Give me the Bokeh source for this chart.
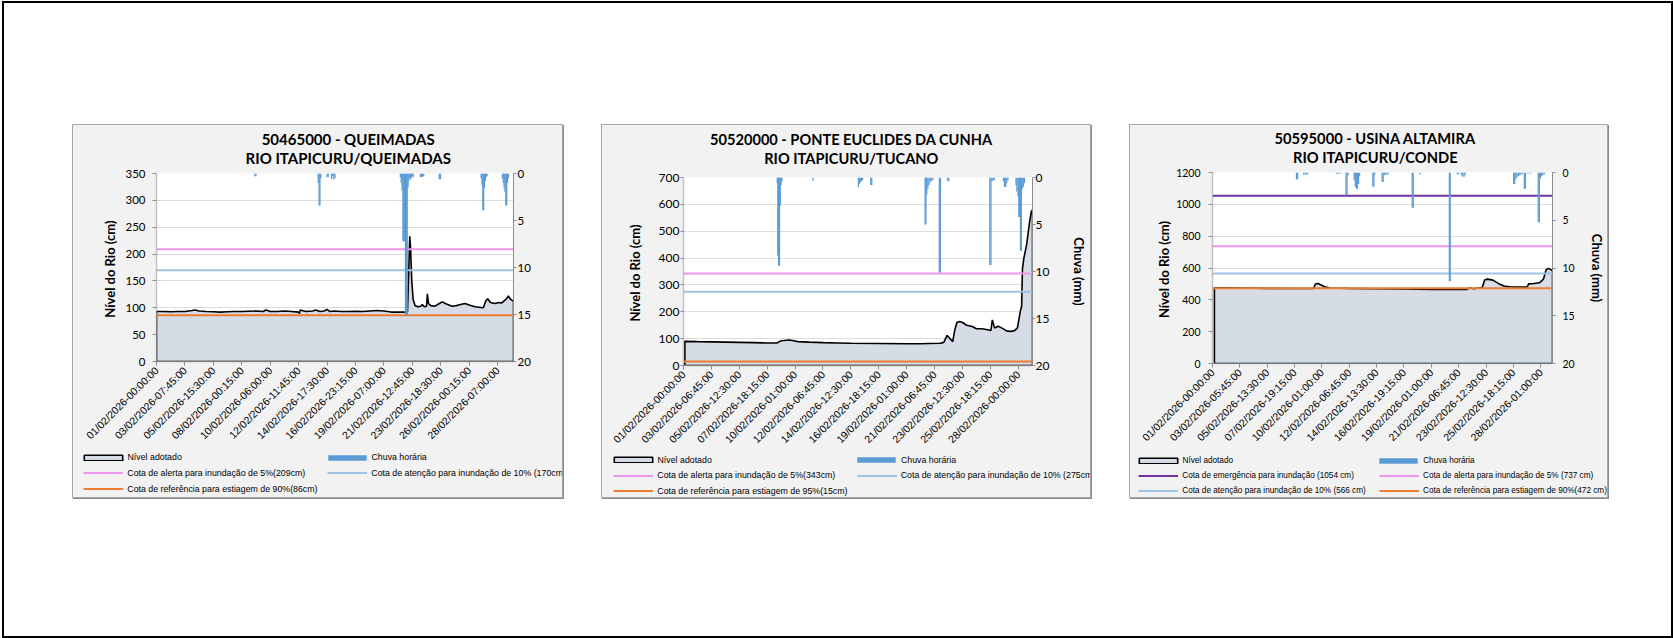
import math
from bokeh.plotting import figure
from bokeh.models import Range1d, LinearAxis, Legend, LegendItem, Spacer, FixedTicker
from bokeh.layouts import row, column
from bokeh.core.properties import value
from bokeh.embed import file_html
from bokeh.resources import INLINE

# ======================= DATA =======================
# time axis is expressed in "label intervals" (tick i = i-th label)
# ---------- Panel 1 : Queimadas ----------
p1_title = ["50465000 - QUEIMADAS", "RIO ITAPICURU/QUEIMADAS"]
p1_ticklabels = ["01/02/2026-00:00:00", "03/02/2026-07:45:00", "05/02/2026-15:30:00",
                 "08/02/2026-00:15:00", "10/02/2026-06:00:00", "12/02/2026-11:45:00",
                 "14/02/2026-17:30:00", "16/02/2026-23:15:00", "19/02/2026-07:00:00",
                 "21/02/2026-12:45:00", "23/02/2026-18:30:00", "26/02/2026-00:15:00",
                 "28/02/2026-07:00:00"]
p1_span = 12.56
p1_ymax, p1_ystep = 350, 50
p1_level = [(0.0, 93), (0.25, 93), (0.5, 92.5), (0.75, 93), (1.0, 93), (1.25, 95), (1.35, 96),
            (1.5, 94), (1.75, 93), (2.0, 92.5), (2.25, 92), (2.5, 92.5), (2.75, 93), (3.0, 93),
            (3.25, 93.5), (3.5, 94), (3.75, 93), (3.85, 96), (4.0, 93), (4.25, 93), (4.5, 94),
            (4.75, 93), (5.0, 92), (5.03, 89), (5.06, 96), (5.25, 93), (5.5, 94), (5.6, 96),
            (5.75, 93), (5.9, 94), (6.0, 97), (6.1, 93), (6.25, 94), (6.5, 93), (6.75, 93),
            (7.0, 93.5), (7.25, 93), (7.5, 94), (7.75, 95), (8.0, 94), (8.25, 92), (8.5, 92),
            (8.83, 92), (8.87, 160), (8.91, 233), (8.94, 210), (8.98, 150), (9.03, 115),
            (9.1, 104), (9.2, 102), (9.3, 103), (9.35, 106), (9.42, 102), (9.5, 103), (9.53, 126),
            (9.57, 108), (9.65, 104), (9.8, 103), (9.95, 108), (10.05, 111), (10.2, 107),
            (10.4, 103), (10.55, 104), (10.7, 106), (10.85, 108), (11.0, 105), (11.2, 102),
            (11.35, 101), (11.5, 100), (11.58, 112), (11.65, 117), (11.75, 110), (11.9, 108),
            (12.05, 110), (12.15, 109), (12.3, 116), (12.38, 122), (12.45, 116), (12.56, 112)]
p1_rain = [(3.46, 0.3), (3.50, 0.3), (5.69, 1.0), (5.72, 3.4), (5.75, 3.4), (5.78, 0.5),
           (6.00, 0.4), (6.04, 0.4), (6.16, 0.6), (6.20, 0.3), (6.24, 0.6), (6.28, 0.5),
           (8.58, 0.4), (8.61, 1.0), (8.64, 1.8), (8.67, 7.2), (8.70, 7.2), (8.73, 7.2),
           (8.76, 15.1), (8.79, 15.1), (8.82, 15.1), (8.85, 1.5), (8.88, 0.8), (8.91, 0.5),
           (8.94, 0.6), (8.97, 0.4), (9.00, 0.3), (9.03, 0.4), (9.28, 0.35), (9.32, 0.4),
           (9.36, 0.35), (9.40, 0.3), (9.95, 0.6), (9.99, 0.6), (11.42, 0.5), (11.45, 1.2),
           (11.48, 3.9), (11.51, 3.9), (11.54, 1.5), (11.57, 0.8), (11.60, 0.4), (11.63, 0.3),
           (12.17, 0.5), (12.20, 1.0), (12.23, 1.5), (12.26, 2.0), (12.29, 3.4), (12.32, 3.4),
           (12.35, 1.0), (12.38, 0.5)]
p1_ref_names = ["Cota de alerta para inundação de 5%(209cm)",
                "Cota de atenção para inundação de 10% (170cm)",
                "Cota de referência para estiagem de 90%(86cm)"]
p1_ref_values = [209, 170, 86]
p1_ref_kinds = ["alerta", "atencao", "referencia"]

# ---------- Panel 2 : Ponte Euclides da Cunha ----------
p2_title = ["50520000 - PONTE EUCLIDES DA CUNHA", "RIO ITAPICURU/TUCANO"]
p2_ticklabels = ["01/02/2026-00:00:00", "03/02/2026-06:45:00", "05/02/2026-12:30:00",
                 "07/02/2026-18:15:00", "10/02/2026-01:00:00", "12/02/2026-06:45:00",
                 "14/02/2026-12:30:00", "16/02/2026-18:15:00", "19/02/2026-01:00:00",
                 "21/02/2026-06:45:00", "23/02/2026-12:30:00", "25/02/2026-18:15:00",
                 "28/02/2026-00:00:00"]
p2_span = 12.51
p2_ymax, p2_ystep = 700, 100
p2_level = [(0.05, 90), (0.5, 89), (1.0, 88), (1.5, 87), (2.0, 86), (2.5, 85), (3.0, 84),
            (3.35, 84), (3.42, 88), (3.5, 92), (3.7, 94), (3.8, 95), (3.95, 92), (4.1, 89),
            (4.5, 87), (5.0, 85), (5.5, 84), (6.0, 83), (7.0, 82), (8.0, 81), (8.5, 81),
            (8.8, 82), (9.2, 83), (9.33, 86), (9.45, 112), (9.55, 100), (9.65, 89), (9.72, 130),
            (9.8, 160), (9.9, 164), (10.0, 160), (10.15, 150), (10.35, 145), (10.5, 137),
            (10.7, 137), (10.9, 133), (11.02, 130), (11.07, 170), (11.15, 140), (11.28, 146),
            (11.4, 140), (11.6, 128), (11.75, 127), (11.87, 130), (11.97, 140), (12.07, 200),
            (12.12, 220), (12.15, 360), (12.2, 400), (12.3, 450), (12.4, 530), (12.46, 570),
            (12.51, 580)]
p2_rain = [(3.36, 0.6), (3.38, 8.3), (3.41, 9.4), (3.44, 9.4), (3.47, 3.0), (3.50, 0.8),
           (3.53, 0.4), (4.64, 0.35), (6.27, 1.0), (6.30, 0.7), (6.34, 0.5), (6.38, 0.4),
           (6.42, 0.3), (6.71, 0.8), (6.75, 0.8), (8.66, 5.0), (8.69, 5.0), (8.72, 1.8),
           (8.76, 1.2), (8.80, 0.8), (8.84, 0.5), (8.88, 0.4), (8.94, 0.3), (9.17, 10.1),
           (9.21, 10.1), (9.47, 0.4), (9.51, 0.4), (10.98, 9.3), (11.02, 9.3), (11.06, 0.4),
           (11.10, 0.3), (11.14, 0.3), (11.47, 0.4), (11.51, 1.0), (11.55, 1.0), (11.59, 0.6),
           (11.63, 0.3), (11.92, 0.8), (11.95, 1.5), (11.99, 2.0), (12.02, 4.2), (12.05, 4.2),
           (12.08, 7.8), (12.11, 7.8), (12.14, 1.2), (12.18, 1.0), (12.22, 0.6)]
p2_ref_names = ["Cota de alerta para inundação de 5%(343cm)",
                "Cota de atenção para inundação de 10% (275cm)",
                "Cota de referência para estiagem de 95%(15cm)"]
p2_ref_values = [343, 275, 15]
p2_ref_kinds = ["alerta", "atencao", "referencia"]

# ---------- Panel 3 : Usina Altamira ----------
p3_title = ["50595000 - USINA ALTAMIRA", "RIO ITAPICURU/CONDE"]
p3_ticklabels = ["01/02/2026-00:00:00", "03/02/2026-05:45:00", "05/02/2026-13:30:00",
                 "07/02/2026-19:15:00", "10/02/2026-01:00:00", "12/02/2026-06:45:00",
                 "14/02/2026-13:30:00", "16/02/2026-19:15:00", "19/02/2026-01:00:00",
                 "21/02/2026-06:45:00", "23/02/2026-12:30:00", "25/02/2026-18:15:00",
                 "28/02/2026-01:00:00"]
p3_span = 12.43
p3_ymax, p3_ystep = 1200, 200
p3_level = [(0.07, 475), (0.5, 475), (1.0, 474), (2.0, 472), (3.0, 471), (3.7, 471),
            (3.76, 500), (3.85, 503), (3.95, 495), (4.1, 482), (4.3, 474), (5.0, 472),
            (6.0, 470), (7.0, 468), (8.0, 465), (9.0, 465), (9.3, 466), (9.4, 475), (9.55, 470),
            (9.7, 474), (9.86, 478), (9.95, 525), (10.05, 530), (10.25, 524), (10.45, 503),
            (10.65, 487), (10.9, 481), (11.2, 480), (11.5, 480), (11.56, 500), (11.75, 503),
            (11.95, 507), (12.1, 530), (12.2, 590), (12.28, 598), (12.36, 590), (12.43, 585)]
p3_rain = [(3.07, 0.7), (3.11, 0.7), (3.33, 0.2), (3.38, 0.2), (3.43, 0.2), (3.48, 0.2),
           (4.53, 0.1), (4.58, 0.15), (4.63, 0.1), (4.68, 0.1), (4.88, 2.4), (4.92, 2.4),
           (4.96, 0.3), (5.18, 0.8), (5.22, 1.5), (5.26, 1.7), (5.30, 1.7), (5.34, 1.2),
           (5.38, 0.4), (5.86, 1.5), (5.90, 1.5), (5.94, 0.2), (6.20, 1.0), (6.24, 1.0),
           (6.28, 0.3), (6.32, 0.2), (6.37, 0.2), (6.42, 0.2), (7.30, 3.7), (7.34, 3.7),
           (7.58, 0.2), (8.66, 11.4), (8.69, 11.4), (8.95, 0.2), (9.00, 0.15), (9.10, 0.3),
           (9.15, 0.45), (9.20, 0.45), (9.25, 0.2), (11.01, 1.2), (11.05, 1.2), (11.09, 0.7),
           (11.13, 0.5), (11.18, 0.4), (11.23, 0.3), (11.28, 0.2), (11.32, 0.2), (11.40, 1.7),
           (11.44, 1.7), (11.52, 0.1), (11.58, 0.1), (11.64, 0.1), (11.91, 5.2), (11.95, 5.2),
           (11.99, 0.6), (12.03, 0.4), (12.08, 0.3), (12.13, 0.2)]
p3_ref_names = ["Cota de emergência para inundação (1054 cm)",
                "Cota de alerta para inundação de 5% (737 cm)",
                "Cota de atenção para inundação de 10% (566 cm)",
                "Cota de referência para estiagem de 90%(472 cm)"]
p3_ref_values = [1054, 737, 566, 472]
p3_ref_kinds = ["emergencia", "alerta", "atencao", "referencia"]

rain_max = 20
rain_ticks = [0, 5, 10, 15, 20]

# ======================= STYLE / LAYOUT =======================
REF_COLORS = {"emergencia": "#7030A0", "alerta": "#EE96EE",
              "atencao": "#9DC3E6", "referencia": "#ED7D31"}
REF_WIDTHS = {"emergencia": 1.8, "alerta": 2, "atencao": 2, "referencia": 2}
AREA_FILL = "#D6DCE5"
RAIN_COLOR = "#5B9BD5"
CHART_BG = "#F2F2F2"
NAN = float("nan")

PANEL_H = 372          # inner canvas height of each chart box
CANVAS_TOP = 125       # absolute page y of the chart boxes' inner top
TOP_PAD = 6            # space kept above the plot frame inside the main figure
BOTTOM_PAD = 88        # space below the frame for the rotated labels

layouts = [
    dict(left=73, w=489, frame_left=156, frame_top=173, fw=357, fh=188,
         title=(347.7, 138.0, 157.0), title_size="15px",
         ytick_out=4, ytick_standoff=7, ylab_standoff=4,
         rtick_standoff=1, rlab="", rlab_standoff=10, tick_font="11.5px",
         cols=(83.3, 327.3), rows=(456.7, 472.7, 488.7), leg_font="8.8px"),
    dict(left=602, w=488, frame_left=683, frame_top=177, fw=357, fh=188,
         title=(850.8, 139.3, 158.3), title_size="14.6px",
         ytick_out=3, ytick_standoff=1, ylab_standoff=13,
         rtick_standoff=0, rlab="Chuva (mm)", rlab_standoff=19, tick_font="12px",
         cols=(613.3, 856.7), rows=(459.3, 475.0, 490.7), leg_font="8.8px"),
    dict(left=1130, w=477, frame_left=1212, frame_top=172, fw=347, fh=191,
         title=(1374.8, 137.3, 156.7), title_size="14.7px",
         ytick_out=4, ytick_standoff=8, ylab_standoff=1,
         rtick_standoff=7, rlab="Chuva (mm)", rlab_standoff=11, tick_font="10.5px",
         cols=(1138.3, 1379.0), rows=(459.3, 475.0, 490.7), leg_font="8.2px"),
]
datasets = [
    dict(title=p1_title, ticks=p1_ticklabels, span=p1_span, ymax=p1_ymax, ystep=p1_ystep,
         level=p1_level, rain=p1_rain, ref_names=p1_ref_names, ref_values=p1_ref_values,
         ref_kinds=p1_ref_kinds),
    dict(title=p2_title, ticks=p2_ticklabels, span=p2_span, ymax=p2_ymax, ystep=p2_ystep,
         level=p2_level, rain=p2_rain, ref_names=p2_ref_names, ref_values=p2_ref_values,
         ref_kinds=p2_ref_kinds),
    dict(title=p3_title, ticks=p3_ticklabels, span=p3_span, ymax=p3_ymax, ystep=p3_ystep,
         level=p3_level, rain=p3_rain, ref_names=p3_ref_names, ref_values=p3_ref_values,
         ref_kinds=p3_ref_kinds),
]


def blank_fig(w, h):
    f = figure(width=w, height=h, x_range=Range1d(0, w), y_range=Range1d(h, 0),
               output_backend="svg", toolbar_location=None, min_border=0,
               x_axis_location=None, y_axis_location=None, frame_align=False,
               background_fill_color=CHART_BG, border_fill_color=CHART_BG,
               outline_line_color=None)
    f.grid.visible = False
    return f


def build(d, L):
    w, fw, fh = L["w"], L["fw"], L["fh"]
    bl = L["frame_left"] - L["left"]
    title_h = L["frame_top"] - CANVAS_TOP - TOP_PAD
    main_h = TOP_PAD + fh + BOTTOM_PAD
    leg_h = PANEL_H - title_h - main_h
    leg_top = CANVAS_TOP + title_h + main_h

    # ---------- title strip ----------
    tf = blank_fig(w, title_h)
    cx, y1, y2 = L["title"]
    tf.text(x=[cx - L["left"]] * 2, y=[y1 - CANVAS_TOP, y2 - CANVAS_TOP], text=d["title"],
            text_align="center", text_baseline="middle", text_font=value("Lato"),
            text_font_style="bold", text_font_size=L["title_size"], text_color="#000000")

    # ---------- main chart ----------
    p = figure(width=w, height=main_h,
               x_range=Range1d(0, d["span"]), y_range=Range1d(0, d["ymax"]),
               output_backend="svg", toolbar_location=None, frame_align=False,
               min_border_left=bl, min_border_right=w - bl - fw,
               min_border_top=TOP_PAD, min_border_bottom=BOTTOM_PAD,
               background_fill_color="white", border_fill_color=CHART_BG,
               outline_line_color=None)
    p.extra_y_ranges = {"rain": Range1d(rain_max, 0)}

    lt = [t for t, _ in d["level"]]
    lv = [v for _, v in d["level"]]
    p.patch([lt[0]] + lt + [lt[-1]], [0] + lv + [0],
            fill_color=AREA_FILL, line_color="black", line_width=1.6)

    for val, kind in zip(d["ref_values"], d["ref_kinds"]):
        p.line([0, d["span"]], [val, val], line_color=REF_COLORS[kind],
               line_width=REF_WIDTHS[kind])

    rt = [t for t, _ in d["rain"]]
    rv = [v for _, v in d["rain"]]
    p.vbar(x=rt, top=[0] * len(rt), bottom=rv, width=0.045, y_range_name="rain",
           fill_color=RAIN_COLOR, line_color=None)

    yax = p.yaxis[0]
    yax.ticker = FixedTicker(ticks=list(range(0, d["ymax"] + 1, d["ystep"])))
    yax.axis_label = "Nível do Rio  (cm)"
    yax.axis_line_color = "#8c8c8c"
    yax.axis_line_dash = "1 1"
    yax.axis_line_width = 1.5
    yax.major_tick_out = L["ytick_out"]
    yax.major_tick_in = 0
    yax.minor_tick_line_color = None
    yax.major_tick_line_color = "#8c8c8c"
    yax.major_label_standoff = L["ytick_standoff"]
    yax.axis_label_standoff = L["ylab_standoff"]

    rax = LinearAxis(y_range_name="rain", ticker=FixedTicker(ticks=rain_ticks),
                     axis_label=L["rlab"] if L["rlab"] else None)
    rax.axis_line_color = "#8c8c8c"
    rax.major_tick_out = 3
    rax.major_tick_in = 0
    rax.minor_tick_line_color = None
    rax.major_tick_line_color = "#8c8c8c"
    rax.major_label_standoff = L["rtick_standoff"]
    rax.axis_label_standoff = L["rlab_standoff"]
    p.add_layout(rax, "right")

    for ax in [yax, rax]:
        ax.major_label_text_font = "Lato"
        ax.major_label_text_font_size = L["tick_font"]
        ax.major_label_text_color = "#000000"
        ax.axis_label_text_font = "Lato"
        ax.axis_label_text_font_style = "bold"
        ax.axis_label_text_font_size = "13px"
        ax.axis_label_text_color = "#000000"

    xax = p.xaxis[0]
    xax.ticker = FixedTicker(ticks=list(range(len(d["ticks"]))))
    xax.major_label_overrides = {i: s for i, s in enumerate(d["ticks"])}
    xax.major_label_orientation = math.pi / 4
    xax.major_label_text_font = "Liberation Sans"
    xax.major_label_text_font_size = "10.5px"
    xax.major_label_text_color = "#000000"
    xax.major_label_standoff = 3
    xax.axis_line_color = "#7f7f7f"
    xax.axis_line_dash = "1 1"
    xax.axis_line_width = 1.5
    xax.major_tick_out = 4
    xax.major_tick_in = 0
    xax.major_tick_line_color = "#8c8c8c"
    xax.minor_tick_line_color = None

    p.xgrid.visible = False
    p.ygrid.ticker = yax.ticker
    p.ygrid.grid_line_color = "#b8b8b8"
    p.ygrid.grid_line_dash = "1 1"
    p.ygrid.grid_line_width = 1

    # ---------- legend strip (swatches only, no data drawn) ----------
    lf = blank_fig(w, leg_h)
    sw_area = lf.patch([NAN], [NAN], fill_color=AREA_FILL, line_color="black", line_width=1.6)
    sw_rain = lf.vbar(x=[NAN], top=[NAN], bottom=[NAN], width=1,
                      fill_color=RAIN_COLOR, line_color=None)
    sw_refs = [lf.line([NAN], [NAN], line_color=REF_COLORS[k], line_width=REF_WIDTHS[k])
               for k in d["ref_kinds"]]
    entries = [(sw_area, "Nível adotado", True), (sw_rain, "Chuva horária", True)]
    entries += [(r, n, False) for r, n in zip(sw_refs, d["ref_names"])]
    for i, (r, lab, rect) in enumerate(entries):
        rr, cc = divmod(i, 2)
        gh = 7 if rect else 11
        gw = 48 if rect else 40
        x0 = L["cols"][cc] - L["left"] - (4.8 if rect else 0)
        yc = L["rows"][rr] - leg_top + (2 if rect else 0)
        leg = Legend(items=[LegendItem(label=lab, renderers=[r])],
                     location=(x0, leg_h - yc - gh / 2.0),
                     glyph_width=gw, glyph_height=gh, label_height=gh,
                     label_standoff=1 if rect else 4,
                     padding=0, margin=0, spacing=0, border_line_alpha=0,
                     background_fill_alpha=0, label_text_font="Liberation Sans",
                     label_text_font_size=L["leg_font"], label_text_color="#000000")
        lf.add_layout(leg, "center")

    return column(tf, p, lf, width=w, height=PANEL_H, spacing=0,
                  styles={"border": "1px solid #a6a6a6", "box-sizing": "content-box",
                          "box-shadow": "1px 1px 0 #8a8a8a", "background-color": CHART_BG})


panels = [build(d, L) for d, L in zip(datasets, layouts)]

root = column(
    Spacer(width=10, height=121),
    row(Spacer(width=68, height=10), panels[0], Spacer(width=38, height=10), panels[1],
        Spacer(width=38, height=10), panels[2], spacing=0),
    width=1667, height=633, spacing=0,
    styles={"border": "2px solid black", "margin": "1px 0 0 2px",
            "box-sizing": "content-box", "background-color": "white"},
)

open("out.html", "w").write(file_html(root, INLINE, title="Nível do Rio"))
